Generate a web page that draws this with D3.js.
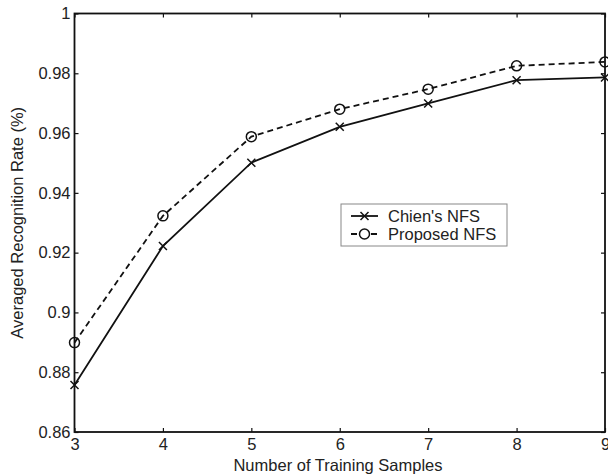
<!DOCTYPE html>
<html>
<head>
<meta charset="utf-8">
<script src="https://cdn.jsdelivr.net/npm/d3@7"></script>
<style>
  body { margin: 0; background: #fff; }
  text { font-family: "Liberation Sans", Arial, sans-serif; fill: #222; }
</style>
</head>
<body>
<script>
// data
var samples = [3, 4, 5, 6, 7, 8, 9];
var chienNFS = [0.8757, 0.9222, 0.9501, 0.9621, 0.9699, 0.9777, 0.9786];
var proposedNFS = [0.8899, 0.9323, 0.9588, 0.9680, 0.9747, 0.9825, 0.9838];
var yTicks = [0.86, 0.88, 0.9, 0.92, 0.94, 0.96, 0.98, 1];
var yLabels = ['0.86', '0.88', '0.9', '0.92', '0.94', '0.96', '0.98', '1'];

var W = 608, H = 474;
var box = { left: 74.5, top: 13.5, right: 605, bottom: 432 };
var fs = 16.5;

var svg = d3.select('body').append('svg')
  .attr('width', W)
  .attr('height', H);

var x = d3.scaleLinear().domain([3, 9]).range([box.left, box.right]);
var y = d3.scaleLinear().domain([0.86, 1]).range([box.bottom, box.top]);

// axes, ticks pointing inward, mirrored on top and right
var axBottom = svg.append('g')
  .attr('transform', 'translate(0,' + box.bottom + ')')
  .call(d3.axisBottom(x).tickValues(samples).tickSizeInner(-4).tickSizeOuter(0).tickPadding(6)
    .tickFormat(d3.format('d')));
var axTop = svg.append('g')
  .attr('transform', 'translate(0,' + box.top + ')')
  .call(d3.axisTop(x).tickValues(samples).tickSizeInner(-4).tickSizeOuter(0).tickFormat(''));
var axLeft = svg.append('g')
  .attr('transform', 'translate(' + box.left + ',0)')
  .call(d3.axisLeft(y).tickValues(yTicks).tickSizeInner(-4).tickSizeOuter(0).tickPadding(4)
    .tickFormat(function(d, i) { return yLabels[i]; }));
var axRight = svg.append('g')
  .attr('transform', 'translate(' + box.right + ',0)')
  .call(d3.axisRight(y).tickValues(yTicks).tickSizeInner(-4).tickSizeOuter(0).tickFormat(''));

[axBottom, axTop, axLeft, axRight].forEach(function(g) {
  g.select('.domain').remove();
  g.selectAll('line').attr('stroke', '#111').attr('stroke-width', 1.2);
  g.selectAll('text').attr('font-size', fs).style('fill', '#222')
    .attr('font-family', '"Liberation Sans", Arial, sans-serif');
});

svg.append('rect')
  .attr('x', box.left).attr('y', box.top)
  .attr('width', box.right - box.left).attr('height', box.bottom - box.top)
  .attr('fill', 'none').attr('stroke', '#111').attr('stroke-width', 1.8);

// axis titles
svg.append('text')
  .attr('x', 338).attr('y', 471)
  .attr('text-anchor', 'middle').attr('font-size', fs)
  .text('Number of Training Samples');
svg.append('text')
  .attr('transform', 'translate(23,' + ((box.top + box.bottom) / 2) + ') rotate(-90)')
  .attr('text-anchor', 'middle').attr('font-size', fs)
  .text('Averaged Recognition Rate (%)');

var line = d3.line()
  .x(function(d, i) { return x(samples[i]); })
  .y(function(d) { return y(d); });

// Chien's NFS: solid with x markers
svg.append('path').datum(chienNFS)
  .attr('d', line).attr('fill', 'none')
  .attr('stroke', '#111').attr('stroke-width', 1.8);
svg.selectAll('.xmark').data(chienNFS).enter().append('path')
  .attr('class', 'xmark')
  .attr('d', 'M-4,-4L4,4M-4,4L4,-4')
  .attr('transform', function(d, i) { return 'translate(' + x(samples[i]) + ',' + y(d) + ')'; })
  .attr('stroke', '#111').attr('stroke-width', 1.5);

// Proposed NFS: dashed with circles
svg.append('path').datum(proposedNFS)
  .attr('d', line).attr('fill', 'none')
  .attr('stroke', '#111').attr('stroke-width', 1.8)
  .attr('stroke-dasharray', '6,4');
svg.selectAll('.omark').data(proposedNFS).enter().append('circle')
  .attr('class', 'omark')
  .attr('cx', function(d, i) { return x(samples[i]); })
  .attr('cy', function(d) { return y(d); })
  .attr('r', 5)
  .attr('fill', 'none').attr('stroke', '#111').attr('stroke-width', 1.5);

// legend
var lg = svg.append('g');
lg.append('rect')
  .attr('x', 341).attr('y', 204).attr('width', 166).attr('height', 42)
  .attr('fill', '#fff').attr('stroke', '#888').attr('stroke-width', 1);

lg.append('line').attr('x1', 351).attr('x2', 378).attr('y1', 216).attr('y2', 216)
  .attr('stroke', '#111').attr('stroke-width', 1.8);
lg.append('path').attr('d', 'M-4,-4L4,4M-4,4L4,-4')
  .attr('transform', 'translate(364.5,216)')
  .attr('stroke', '#111').attr('stroke-width', 1.5);
lg.append('text').attr('x', 388).attr('y', 222).attr('font-size', fs).text("Chien's NFS");

lg.append('line').attr('x1', 351).attr('x2', 378).attr('y1', 234).attr('y2', 234)
  .attr('stroke', '#111').attr('stroke-width', 1.8).attr('stroke-dasharray', '6,4');
lg.append('circle').attr('cx', 364.5).attr('cy', 234).attr('r', 5)
  .attr('fill', '#fff').attr('stroke', '#111').attr('stroke-width', 1.5);
lg.append('text').attr('x', 388).attr('y', 240).attr('font-size', fs).text('Proposed NFS');
</script>
</body>
</html>
